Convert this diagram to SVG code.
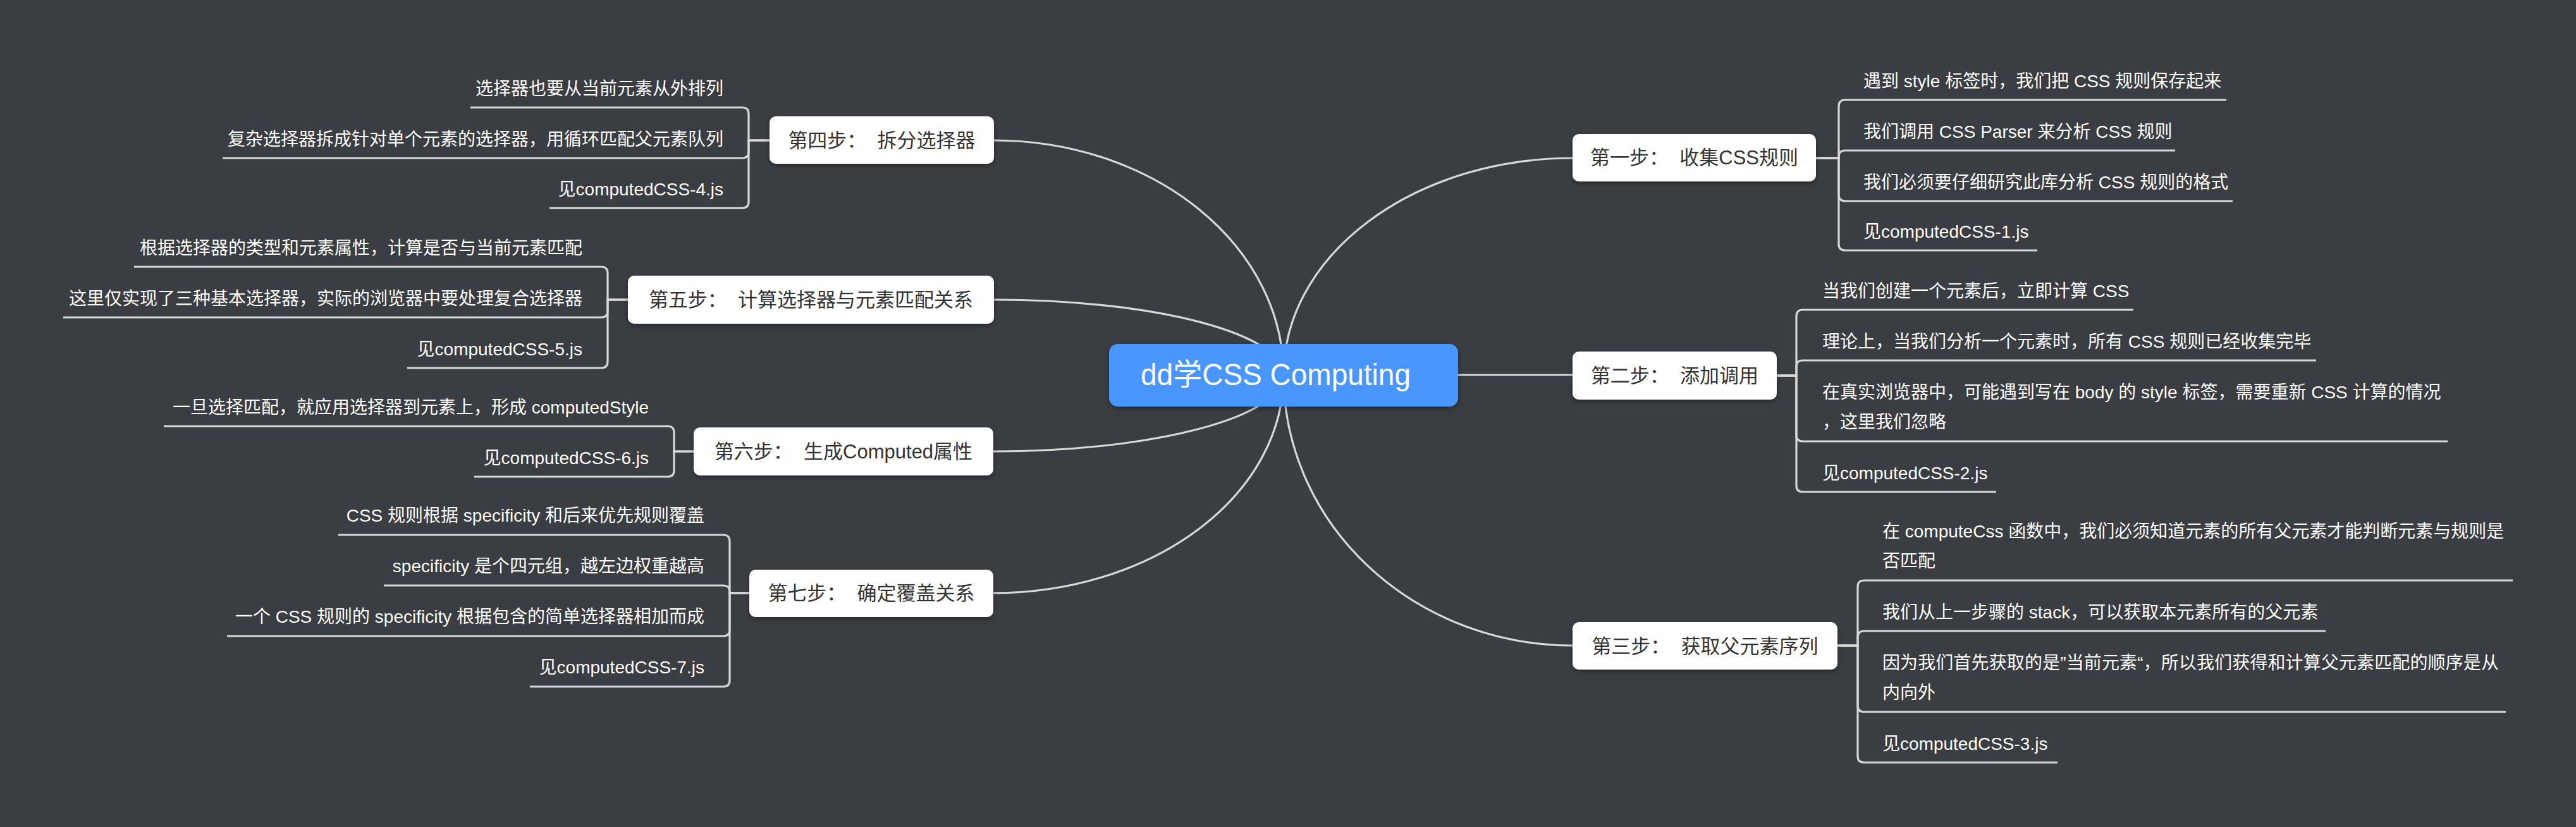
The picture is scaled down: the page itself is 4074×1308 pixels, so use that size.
<svg xmlns="http://www.w3.org/2000/svg" width="4074" height="1308" viewBox="0 0 4074 1308">
<defs>
<style>
.ln{fill:none;stroke:#d8d8d8;stroke-width:3.2}
.box{fill:#ffffff;filter:url(#sh)}
.root{fill:#4a96ff;filter:url(#sh)}
.nt{font-family:"Liberation Sans","Noto Sans CJK SC",sans-serif;font-size:31px;fill:#333333;text-anchor:middle;white-space:pre}
.ct{font-family:"Liberation Sans","Noto Sans CJK SC",sans-serif;font-size:28px;fill:#ffffff;white-space:pre}
.l{text-anchor:end}
</style>
<filter id="sh" x="-10%" y="-20%" width="120%" height="150%">
<feDropShadow dx="0" dy="3" stdDeviation="4" flood-color="#000" flood-opacity="0.35"/>
</filter>
</defs>
<rect width="4074" height="1308" fill="#3a3d42"/>
<g id="connectors">
<path class="ln" d="M2030,593 A457,343 0 0 1 2487,250"/>
<path class="ln" d="M2030,593 H2487"/>
<path class="ln" d="M2030,593 A457,428 0 0 0 2487,1021"/>
<path class="ln" d="M2030,593 A458,371 0 0 0 1572,222"/>
<path class="ln" d="M2030,593 A458,119 0 0 0 1572,474"/>
<path class="ln" d="M2030,593 A459,121 0 0 1 1571,714"/>
<path class="ln" d="M2030,593 A459,345 0 0 1 1571,938"/>
<path class="ln" d="M2872,250 H2908 V168 Q2908,158 2918,158 H3521"/>
<path class="ln" d="M2872,250 H2908 V248 Q2908,238 2918,238 H3440"/>
<path class="ln" d="M2872,250 H2908 V308 Q2908,318 2918,318 H3531"/>
<path class="ln" d="M2872,250 H2908 V386 Q2908,396 2918,396 H3222"/>
<path class="ln" d="M2810,594 H2841 V500 Q2841,490 2851,490 H3374"/>
<path class="ln" d="M2810,594 H2841 V580 Q2841,570 2851,570 H3663"/>
<path class="ln" d="M2810,594 H2841 V688 Q2841,698 2851,698 H3871"/>
<path class="ln" d="M2810,594 H2841 V768 Q2841,778 2851,778 H3157"/>
<path class="ln" d="M2906,1021 H2938 V928 Q2938,918 2948,918 H3974"/>
<path class="ln" d="M2906,1021 H2938 V1008 Q2938,998 2948,998 H3678"/>
<path class="ln" d="M2906,1021 H2938 V1116 Q2938,1126 2948,1126 H3963"/>
<path class="ln" d="M2906,1021 H2938 V1196 Q2938,1206 2948,1206 H3254"/>
<path class="ln" d="M1217,222 H1184 V180 Q1184,170 1174,170 H744"/>
<path class="ln" d="M1217,222 H1184 V240 Q1184,250 1174,250 H352"/>
<path class="ln" d="M1217,222 H1184 V319 Q1184,329 1174,329 H869"/>
<path class="ln" d="M993,474 H961 V432 Q961,422 951,422 H212"/>
<path class="ln" d="M993,474 H961 V492 Q961,502 951,502 H100"/>
<path class="ln" d="M993,474 H961 V572 Q961,582 951,582 H644"/>
<path class="ln" d="M1097,714 H1066 V684 Q1066,674 1056,674 H259"/>
<path class="ln" d="M1097,714 H1066 V744 Q1066,754 1056,754 H750"/>
<path class="ln" d="M1185,938 H1154 V856 Q1154,846 1144,846 H535"/>
<path class="ln" d="M1185,938 H1154 V936 Q1154,926 1144,926 H607"/>
<path class="ln" d="M1185,938 H1154 V996 Q1154,1006 1144,1006 H359"/>
<path class="ln" d="M1185,938 H1154 V1076 Q1154,1086 1144,1086 H838"/>
</g>
<g id="root">
<rect class="root" x="1754" y="544" width="552" height="99" rx="14"/>
<text x="1804" y="609" font-family="Liberation Sans, Noto Sans CJK SC, sans-serif" font-size="48" fill="#ffffff" textLength="427" lengthAdjust="spacingAndGlyphs">dd学CSS Computing</text>
</g>
<g id="step1">
<rect class="box" x="2487" y="212" width="385" height="75" rx="10"/>
<text class="nt" x="2679.5" y="260">第一步：  收集CSS规则</text>
<text class="ct" x="2947" y="138">遇到 style 标签时，我们把 CSS 规则保存起来</text>
<text class="ct" x="2947" y="218">我们调用 CSS Parser 来分析 CSS 规则</text>
<text class="ct" x="2947" y="298">我们必须要仔细研究此库分析 CSS 规则的格式</text>
<text class="ct" x="2947" y="376">见computedCSS-1.js</text>
</g>
<g id="step2">
<rect class="box" x="2487" y="556" width="323" height="76" rx="10"/>
<text class="nt" x="2648.5" y="605">第二步：  添加调用</text>
<text class="ct" x="2882" y="470">当我们创建一个元素后，立即计算 CSS</text>
<text class="ct" x="2882" y="550">理论上，当我们分析一个元素时，所有 CSS 规则已经收集完毕</text>
<text class="ct" x="2882" y="630">在真实浏览器中，可能遇到写在 body 的 style 标签，需要重新 CSS 计算的情况</text>
<text class="ct" x="2882" y="677">，这里我们忽略</text>
<text class="ct" x="2882" y="758">见computedCSS-2.js</text>
</g>
<g id="step3">
<rect class="box" x="2487" y="984" width="419" height="75" rx="10"/>
<text class="nt" x="2696.5" y="1033">第三步：  获取父元素序列</text>
<text class="ct" x="2977" y="850">在 computeCss 函数中，我们必须知道元素的所有父元素才能判断元素与规则是</text>
<text class="ct" x="2977" y="897">否匹配</text>
<text class="ct" x="2977" y="978">我们从上一步骤的 stack，可以获取本元素所有的父元素</text>
<text class="ct" x="2977" y="1058" textLength="975">因为我们首先获取的是”当前元素“，所以我们获得和计算父元素匹配的顺序是从</text>
<text class="ct" x="2977" y="1105">内向外</text>
<text class="ct" x="2977" y="1186">见computedCSS-3.js</text>
</g>
<g id="step4">
<rect class="box" x="1217" y="184" width="355" height="75" rx="10"/>
<text class="nt" x="1394.5" y="233">第四步：  拆分选择器</text>
<text class="ct l" x="1144" y="150">选择器也要从当前元素从外排列</text>
<text class="ct l" x="1144" y="230">复杂选择器拆成针对单个元素的选择器，用循环匹配父元素队列</text>
<text class="ct l" x="1144" y="309">见computedCSS-4.js</text>
</g>
<g id="step5">
<rect class="box" x="993" y="436" width="579" height="76" rx="10"/>
<text class="nt" x="1282.5" y="485">第五步：  计算选择器与元素匹配关系</text>
<text class="ct l" x="921" y="402">根据选择器的类型和元素属性，计算是否与当前元素匹配</text>
<text class="ct l" x="921" y="482">这里仅实现了三种基本选择器，实际的浏览器中要处理复合选择器</text>
<text class="ct l" x="921" y="562">见computedCSS-5.js</text>
</g>
<g id="step6">
<rect class="box" x="1097" y="676" width="474" height="76" rx="10"/>
<text class="nt" x="1334" y="725">第六步：  生成Computed属性</text>
<text class="ct l" x="1026" y="654">一旦选择匹配，就应用选择器到元素上，形成 computedStyle</text>
<text class="ct l" x="1026" y="734">见computedCSS-6.js</text>
</g>
<g id="step7">
<rect class="box" x="1185" y="901" width="386" height="75" rx="10"/>
<text class="nt" x="1378" y="949">第七步：  确定覆盖关系</text>
<text class="ct l" x="1114" y="825">CSS 规则根据 specificity 和后来优先规则覆盖</text>
<text class="ct l" x="1114" y="905">specificity 是个四元组，越左边权重越高</text>
<text class="ct l" x="1114" y="985">一个 CSS 规则的 specificity 根据包含的简单选择器相加而成</text>
<text class="ct l" x="1114" y="1065">见computedCSS-7.js</text>
</g>
</svg>
